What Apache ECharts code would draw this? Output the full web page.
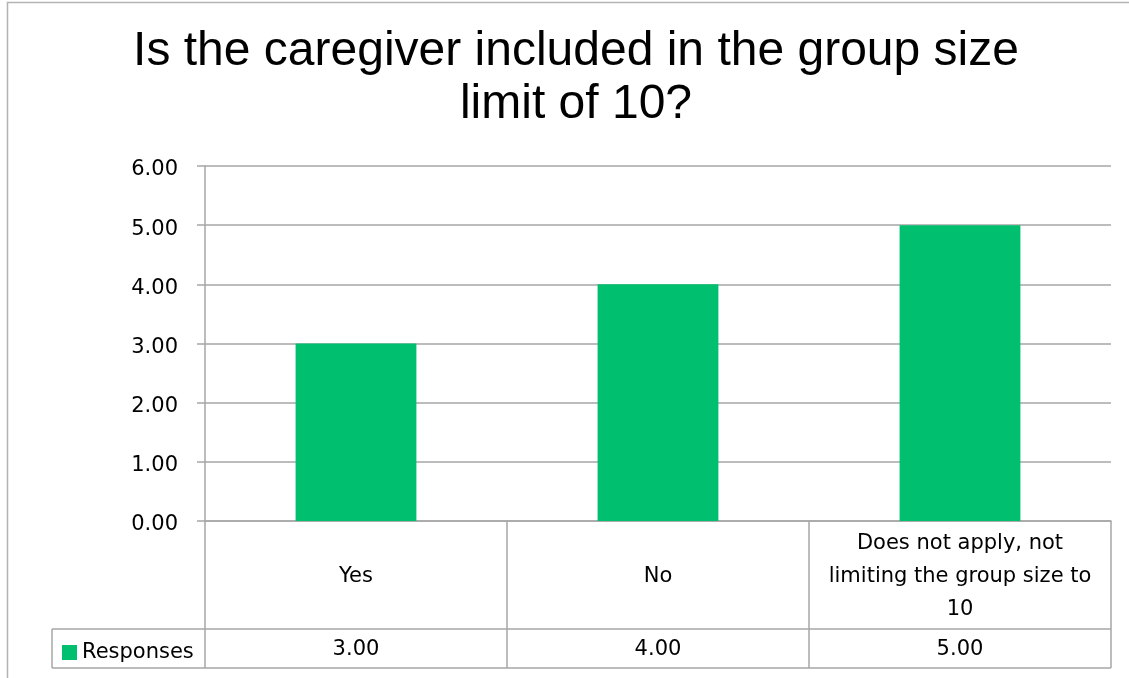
<!DOCTYPE html>
<html><head><meta charset="utf-8">
<script src="https://cdn.jsdelivr.net/npm/echarts@6/dist/echarts.min.js"></script>
<style>html,body{margin:0;padding:0;background:#fff;}#c{width:1129px;height:678px;}</style>
</head><body><div id="c"></div>
<script>
const titleText = "Is the caregiver included in the group size\nlimit of 10?";
const categories = ["Yes", "No", "Does not apply, not\nlimiting the group size to\n10"];
const seriesName = "Responses";
const values = [3, 4, 5];
const yTicks = { min: 0, max: 6, interval: 1 };

const bodyFont = "DejaVu Sans";
const green = "#00BF6F";
const lineGray = "#A6A6A6";

const chart = echarts.init(document.getElementById('c'));
chart.setOption({
  animation: false,
  backgroundColor: '#fff',
  title: {
    text: titleText, left: 571, top: 20, textAlign: 'center',
    textStyle: { fontFamily: 'Liberation Sans', fontSize: 48, fontWeight: 'normal', color: '#000', lineHeight: 53, align: 'center' }
  },
  legend: {
    data: [seriesName], left: 57, top: 637, itemWidth: 15, itemHeight: 15, itemGap: 6,
    icon: 'rect', textStyle: { fontFamily: bodyFont, fontSize: 21, color: '#000', padding: [0,0,0,0] }
  },
  grid: { left: 205, right: 18, top: 166, bottom: 157, containLabel: false },
  xAxis: [{
    type: 'category', data: categories, position: 'bottom',
    axisLine: { show: true, lineStyle: { color: lineGray, width: 1.5 } },
    axisTick: { show: true, length: 147, lineStyle: { color: lineGray, width: 1.5 } },
    axisLabel: { interval: 0, margin: 56, verticalAlign: 'middle', fontFamily: bodyFont, fontSize: 21, color: '#000', lineHeight: 33 }
  }, {
    type: 'category', data: values.map(v => v.toFixed(2)), position: 'bottom', offset: 108,
    axisLine: { show: false }, axisTick: { show: false },
    axisLabel: { interval: 0, margin: 21, verticalAlign: 'middle', fontFamily: bodyFont, fontSize: 21, color: '#000' }
  }],
  yAxis: {
    type: 'value', min: yTicks.min, max: yTicks.max, interval: yTicks.interval,
    axisLine: { show: true, lineStyle: { color: lineGray, width: 1.5 } },
    axisTick: { show: true, length: 8, lineStyle: { color: lineGray, width: 1.5 } },
    axisLabel: {
      margin: 27, formatter: v => '{a|' + v.toFixed(2) + '}', color: '#000',
      rich: { a: { fontFamily: bodyFont, fontSize: 21, color: '#000', padding: [8, 0, 0, 0] } }
    },
    splitLine: { show: true, lineStyle: { color: lineGray, width: 1.5 } }
  },
  series: [{
    name: seriesName, type: 'bar', data: values, barWidth: '40%', xAxisIndex: 0,
    itemStyle: { color: green }
  }],
  graphic: [
    { type: 'rect', shape: { x: 7.5, y: 2.5, width: 1130, height: 690 }, style: { fill: 'none', stroke: '#B3B3B3', lineWidth: 1.5 }, silent: true },
    { type: 'line', shape: { x1: 52, y1: 629, x2: 1111, y2: 629 }, style: { stroke: lineGray, lineWidth: 1.5 }, silent: true },
    { type: 'line', shape: { x1: 52, y1: 668, x2: 1111, y2: 668 }, style: { stroke: lineGray, lineWidth: 1.5 }, silent: true },
    { type: 'line', shape: { x1: 52, y1: 629, x2: 52, y2: 668 }, style: { stroke: lineGray, lineWidth: 1.5 }, silent: true }
  ]
});
</script></body></html>
